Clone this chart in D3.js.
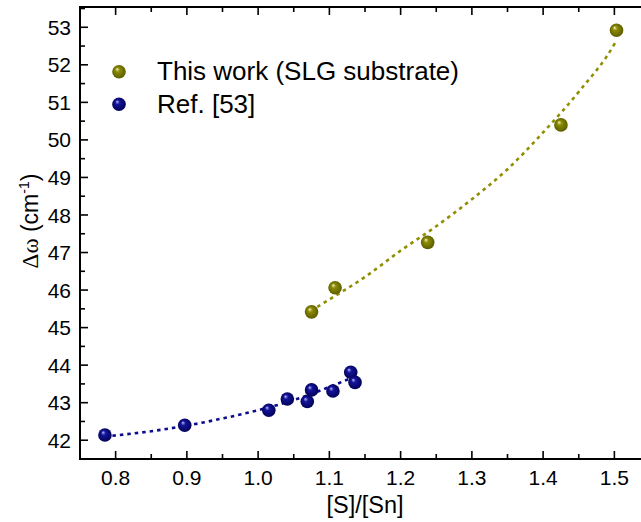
<!DOCTYPE html>
<html>
<head>
<meta charset="utf-8">
<script src="https://cdn.jsdelivr.net/npm/d3@7"></script>
<style>
    body { margin: 0; background: #fff; }
    svg { display: block; font-family: "Liberation Sans", Arial, sans-serif; }
</style>
</head>
<body>
<script>
// measured points
var seriesNames = ["This work (SLG substrate)", "Ref. [53]"];

var workX = [1.075, 1.108, 1.238, 1.425, 1.503];
var workY = [45.42, 46.06, 47.27, 50.40, 52.92];

var refX = [0.785, 0.897, 1.015, 1.041, 1.069, 1.075, 1.105, 1.130, 1.136];
var refY = [42.14, 42.40, 42.80, 43.10, 43.03, 43.34, 43.31, 43.81, 43.54];

// dotted fit curves
var workFitX = [1.074, 1.10, 1.15, 1.20, 1.25, 1.30, 1.35, 1.40, 1.45, 1.50, 1.503];
var workFitY = [45.45, 45.75, 46.35, 47.05, 47.70, 48.42, 49.22, 50.20, 51.28, 52.55, 52.65];

var refFitX = [0.785, 0.85, 0.90, 0.95, 1.00, 1.05, 1.10, 1.136];
var refFitY = [42.10, 42.24, 42.39, 42.58, 42.80, 43.07, 43.42, 43.70];

var xTicks = [0.8, 0.9, 1.0, 1.1, 1.2, 1.3, 1.4, 1.5];
var yTicks = [42, 43, 44, 45, 46, 47, 48, 49, 50, 51, 52, 53];

function zip(a, b) {
    return a.map(function(d, i) { return [d, b[i]]; });
}

var width = 641, height = 522;
var frame = { left: 80, right: 650, top: 7, bottom: 459 };

var svg = d3.select("body").append("svg")
    .attr("width", width)
    .attr("height", height);

var x = d3.scaleLinear().domain([0.75, 1.55]).range([frame.left, frame.right]);
var y = d3.scaleLinear().domain([41.5, 53.54]).range([frame.bottom, frame.top]);

// sphere look for the markers
var defs = svg.append("defs");
function sphere(id, light, base, dark) {
    var g = defs.append("radialGradient").attr("id", id)
        .attr("cx", "50%").attr("cy", "50%").attr("r", "55%")
        .attr("fx", "35%").attr("fy", "30%");
    g.append("stop").attr("offset", "0").attr("stop-color", light);
    g.append("stop").attr("offset", "0.3").attr("stop-color", base);
    g.append("stop").attr("offset", "1").attr("stop-color", dark);
}
sphere("ballOlive", "#f2f2c8", "#8c8c00", "#575700");
sphere("ballBlue", "#b8b8ff", "#14149a", "#000050");

var xMinor = d3.range(0.75, 1.551, 0.05);
var yMinor = d3.range(41.5, 53.51, 0.5);

var axes = svg.append("g").attr("stroke", "#000").attr("fill", "none");

// ticks, all pointing inward
xMinor.forEach(function(v) {
    var major = xTicks.some(function(t) { return Math.abs(t - v) < 1e-6; });
    var len = major ? 8 : 5;
    axes.append("line").attr("x1", x(v)).attr("x2", x(v))
        .attr("y1", frame.bottom).attr("y2", frame.bottom - len).attr("stroke-width", 1.6);
    axes.append("line").attr("x1", x(v)).attr("x2", x(v))
        .attr("y1", frame.top).attr("y2", frame.top + len).attr("stroke-width", 1.6);
});
yMinor.forEach(function(v) {
    var major = yTicks.some(function(t) { return Math.abs(t - v) < 1e-6; });
    var len = major ? 8 : 5;
    axes.append("line").attr("y1", y(v)).attr("y2", y(v))
        .attr("x1", frame.left).attr("x2", frame.left + len).attr("stroke-width", 1.6);
    axes.append("line").attr("y1", y(v)).attr("y2", y(v))
        .attr("x1", frame.right).attr("x2", frame.right - len).attr("stroke-width", 1.6);
});

axes.append("rect")
    .attr("x", frame.left).attr("y", frame.top)
    .attr("width", frame.right - frame.left).attr("height", frame.bottom - frame.top)
    .attr("stroke-width", 2);

// tick labels
svg.append("g").selectAll("text").data(xTicks).enter().append("text")
    .attr("x", function(d) { return x(d); })
    .attr("y", 485)
    .attr("text-anchor", "middle")
    .attr("font-size", 21)
    .text(function(d) { return d.toFixed(1); });

svg.append("g").selectAll("text").data(yTicks).enter().append("text")
    .attr("x", 71)
    .attr("y", function(d) { return y(d); })
    .attr("dy", "0.36em")
    .attr("text-anchor", "end")
    .attr("font-size", 21)
    .text(function(d) { return d; });

// axis titles
svg.append("text")
    .attr("x", 365)
    .attr("y", 513)
    .attr("text-anchor", "middle")
    .attr("font-size", 23.5)
    .text("[S]/[Sn]");

var yTitle = svg.append("text")
    .attr("transform", "translate(38,221)rotate(-90)")
    .attr("text-anchor", "middle")
    .attr("font-size", 23);
yTitle.append("tspan").attr("font-family", "'Liberation Serif', 'DejaVu Serif', serif").text("\u0394\u03c9");
yTitle.append("tspan").text(" (cm");
yTitle.append("tspan").attr("font-size", 14).attr("dy", -9).text("-1");
yTitle.append("tspan").attr("dy", 9).text(")");

// fit lines
var line = d3.line()
    .x(function(d) { return x(d[0]); })
    .y(function(d) { return y(d[1]); })
    .curve(d3.curveMonotoneX);

svg.append("path").datum(zip(workFitX, workFitY))
    .attr("d", line)
    .attr("fill", "none")
    .attr("stroke", "#8f8f00")
    .attr("stroke-width", 2.6)
    .attr("stroke-dasharray", "3.5,4");

svg.append("path").datum(zip(refFitX, refFitY))
    .attr("d", line)
    .attr("fill", "none")
    .attr("stroke", "#0c0c8e")
    .attr("stroke-width", 2.6)
    .attr("stroke-dasharray", "3.5,4");

// markers
svg.append("g").selectAll("circle").data(zip(refX, refY)).enter().append("circle")
    .attr("cx", function(d) { return x(d[0]); })
    .attr("cy", function(d) { return y(d[1]); })
    .attr("r", 6.8)
    .attr("fill", "url(#ballBlue)");

svg.append("g").selectAll("circle").data(zip(workX, workY)).enter().append("circle")
    .attr("cx", function(d) { return x(d[0]); })
    .attr("cy", function(d) { return y(d[1]); })
    .attr("r", 6.8)
    .attr("fill", "url(#ballOlive)");

// legend
var legend = svg.append("g");
var legendFill = ["url(#ballOlive)", "url(#ballBlue)"];
seriesNames.forEach(function(name, i) {
    legend.append("circle")
        .attr("cx", 119).attr("cy", 71.7 + i * 32.5)
        .attr("r", 6.8)
        .attr("fill", legendFill[i]);
    legend.append("text")
        .attr("x", 157).attr("y", 80 + i * 32.7)
        .attr("font-size", 26)
        .text(name);
});
</script>
</body>
</html>
